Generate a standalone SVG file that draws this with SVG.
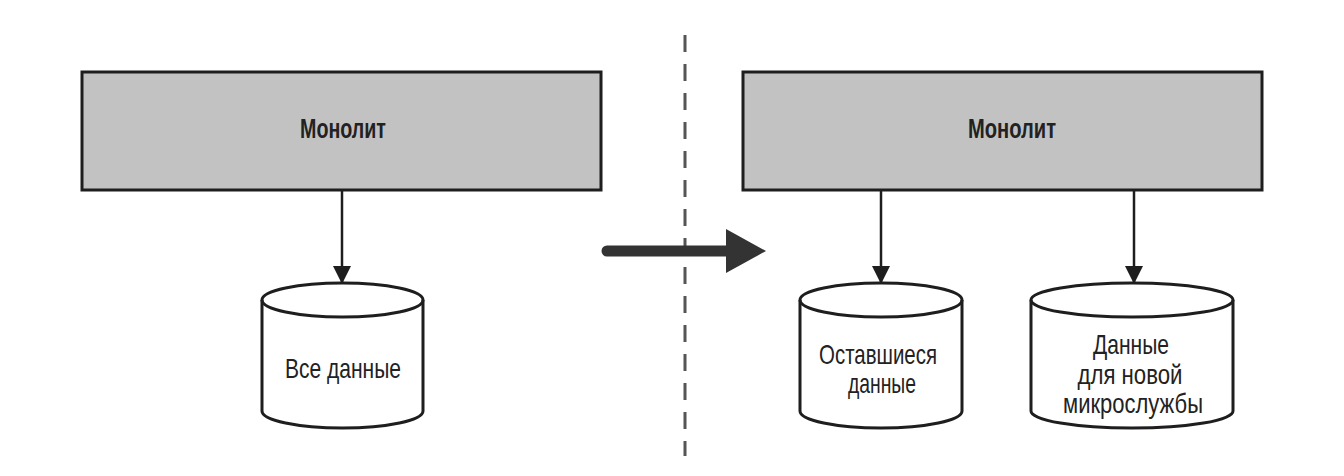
<svg xmlns="http://www.w3.org/2000/svg" width="1344" height="476" viewBox="0 0 1344 476">
  <style>
    .box { fill: #c2c2c2; stroke: #1e1e1e; stroke-width: 3; }
    .db { fill: #ffffff; stroke: #1e1e1e; stroke-width: 3; }
    .dbline { fill: none; stroke: #1e1e1e; stroke-width: 3; }
    .conn { fill: none; stroke: #1e1e1e; stroke-width: 2.5; }
    .lbl { font-family: "Liberation Sans Narrow", "Liberation Sans", "DejaVu Sans", sans-serif; font-size: 28px; fill: #222; text-anchor: middle; }
    .bold { font-weight: bold; }
    .divider { fill: none; stroke: #555; stroke-width: 3; stroke-dasharray: 17 12; }
  </style>
  <defs>
    <marker id="ah" markerUnits="userSpaceOnUse" markerWidth="18" markerHeight="20" refX="17" refY="9" orient="auto">
      <path d="M0,0 L18,9 L0,18 Z" fill="#1e1e1e"/>
    </marker>
  </defs>
  <rect width="1344" height="476" fill="#ffffff"/>

  <g id="divider">
    <line class="divider" x1="685" y1="35" x2="685" y2="456"/>
  </g>

  <g id="monolith-left">
    <rect class="box" x="82" y="72" width="519" height="118"/>
    <text class="lbl bold" x="343" y="138" textLength="86" lengthAdjust="spacingAndGlyphs">Монолит</text>
  </g>

  <g id="db-all">
    <path class="db" d="M262,300 A80.5,17 0 0 1 423,300 V411 A80.5,17 0 0 1 262,411 Z"/>
    <path class="dbline" d="M262,300 A80.5,17 0 0 0 423,300"/>
    <text class="lbl" x="343" y="378" textLength="116" lengthAdjust="spacingAndGlyphs">Все данные</text>
  </g>

  <g id="monolith-right">
    <rect class="box" x="743" y="72" width="519" height="118"/>
    <text class="lbl bold" x="1012" y="138" textLength="88" lengthAdjust="spacingAndGlyphs">Монолит</text>
  </g>

  <g id="db-remaining">
    <path class="db" d="M800,300 A81,17 0 0 1 962,300 V411 A81,17 0 0 1 800,411 Z"/>
    <path class="dbline" d="M800,300 A81,17 0 0 0 962,300"/>
    <text class="lbl" x="878" y="364" textLength="118" lengthAdjust="spacingAndGlyphs">Оставшиеся</text>
    <text class="lbl" x="882" y="393" textLength="68" lengthAdjust="spacingAndGlyphs">данные</text>
  </g>

  <g id="db-new">
    <path class="db" d="M1031,300 A101,17 0 0 1 1233,300 V411 A101,17 0 0 1 1031,411 Z"/>
    <path class="dbline" d="M1031,300 A101,17 0 0 0 1233,300"/>
    <text class="lbl" x="1131" y="354" textLength="76" lengthAdjust="spacingAndGlyphs">Данные</text>
    <text class="lbl" x="1130" y="384" textLength="105" lengthAdjust="spacingAndGlyphs">для новой</text>
    <text class="lbl" x="1133" y="413" textLength="140" lengthAdjust="spacingAndGlyphs">микрослужбы</text>
  </g>

  <g id="connectors">
    <line class="conn" x1="342" y1="191" x2="342" y2="283" marker-end="url(#ah)"/>
    <line class="conn" x1="881" y1="191" x2="881" y2="283" marker-end="url(#ah)"/>
    <line class="conn" x1="1134" y1="191" x2="1134" y2="283" marker-end="url(#ah)"/>
    <line x1="607" y1="251" x2="730" y2="251" stroke="#333" stroke-width="11" stroke-linecap="round"/>
    <polygon points="726,229 766,251 726,273" fill="#333"/>
  </g>
</svg>
